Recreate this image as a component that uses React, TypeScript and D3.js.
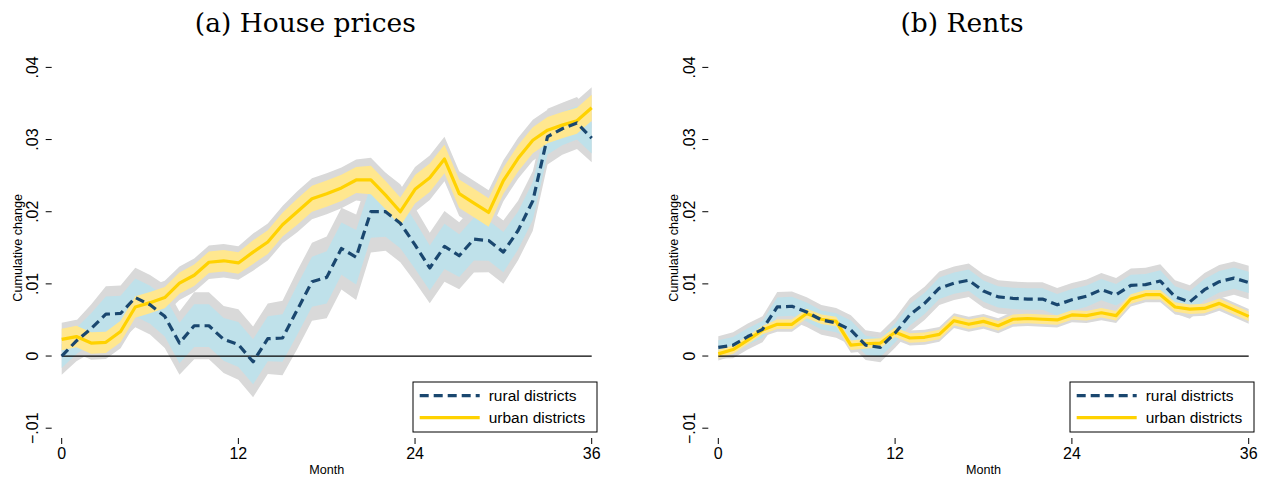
import React from 'react';
import * as d3 from 'd3';

// ---- data ----
const months = [0,1,2,3,4,5,6,7,8,9,10,11,12,13,14,15,16,17,18,19,20,21,22,23,24,25,26,27,28,29,30,31,32,33,34,35,36];
const monthTicks = [0, 12, 24, 36];
const valueTicks = [-0.01, 0, 0.01, 0.02, 0.03, 0.04];
const valueTickLabels = ['\u2212.01', '0', '.01', '.02', '.03', '.04'];
const seriesNames = ['rural districts', 'urban districts'];
const panelTitles = ['(a) House prices', '(b) Rents'];

const houseRural = [0.0000, 0.0021, 0.0038, 0.0058, 0.0059, 0.0081, 0.0071, 0.0055, 0.0018, 0.0042, 0.0042, 0.0023, 0.0016, -0.0008, 0.0024, 0.0025, 0.0064, 0.0103, 0.0109, 0.0149, 0.0137, 0.0200, 0.0200, 0.0184, 0.0154, 0.0122, 0.0152, 0.0139, 0.0162, 0.0160, 0.0144, 0.0174, 0.0215, 0.0304, 0.0315, 0.0323, 0.0302];
const houseRuralSE = [0.0010, 0.0011, 0.0013, 0.0015, 0.0015, 0.0016, 0.0016, 0.0017, 0.0017, 0.0018, 0.0018, 0.0018, 0.0019, 0.0019, 0.0019, 0.0020, 0.0021, 0.0021, 0.0022, 0.0022, 0.0023, 0.0022, 0.0021, 0.0021, 0.0020, 0.0019, 0.0019, 0.0018, 0.0018, 0.0017, 0.0017, 0.0016, 0.0016, 0.0015, 0.0014, 0.0014, 0.0013];
const houseUrban = [0.0023, 0.0027, 0.0018, 0.0019, 0.0034, 0.0068, 0.0074, 0.0081, 0.0101, 0.0112, 0.0130, 0.0132, 0.0129, 0.0144, 0.0158, 0.0182, 0.0200, 0.0218, 0.0225, 0.0233, 0.0244, 0.0244, 0.0223, 0.0200, 0.0231, 0.0247, 0.0273, 0.0225, 0.0212, 0.0199, 0.0243, 0.0274, 0.0299, 0.0313, 0.0320, 0.0326, 0.0344];
const houseUrbanSE = [0.0009, 0.0009, 0.0009, 0.0009, 0.0009, 0.0009, 0.0009, 0.0009, 0.0009, 0.0009, 0.0009, 0.0009, 0.0009, 0.0010, 0.0010, 0.0010, 0.0011, 0.0011, 0.0011, 0.0011, 0.0011, 0.0012, 0.0012, 0.0012, 0.0012, 0.0012, 0.0012, 0.0012, 0.0012, 0.0012, 0.0011, 0.0011, 0.0011, 0.0011, 0.0011, 0.0011, 0.0011];

const rentRural = [0.0012, 0.0015, 0.0027, 0.0037, 0.0068, 0.0069, 0.0061, 0.0050, 0.0046, 0.0036, 0.0015, 0.0012, 0.0032, 0.0057, 0.0073, 0.0094, 0.0101, 0.0105, 0.0090, 0.0082, 0.0080, 0.0079, 0.0079, 0.0071, 0.0078, 0.0083, 0.0092, 0.0085, 0.0098, 0.0099, 0.0104, 0.0082, 0.0075, 0.0092, 0.0103, 0.0108, 0.0102];
const rentRuralSE = [0.0006, 0.0007, 0.0007, 0.0007, 0.0008, 0.0008, 0.0008, 0.0008, 0.0008, 0.0008, 0.0008, 0.0008, 0.0008, 0.0009, 0.0009, 0.0009, 0.0009, 0.0009, 0.0009, 0.0009, 0.0009, 0.0009, 0.0009, 0.0009, 0.0009, 0.0009, 0.0009, 0.0009, 0.0009, 0.0009, 0.0009, 0.0009, 0.0009, 0.0009, 0.0009, 0.0009, 0.0009];
const rentUrban = [0.0003, 0.0009, 0.0022, 0.0036, 0.0044, 0.0044, 0.0059, 0.0051, 0.0048, 0.0015, 0.0017, 0.0018, 0.0033, 0.0025, 0.0026, 0.0030, 0.0049, 0.0044, 0.0048, 0.0042, 0.0051, 0.0052, 0.0051, 0.0050, 0.0057, 0.0056, 0.0060, 0.0056, 0.0079, 0.0085, 0.0085, 0.0068, 0.0065, 0.0066, 0.0073, 0.0064, 0.0055];
const rentUrbanSE = [0.00035, 0.00035, 0.00035, 0.00035, 0.0004, 0.0004, 0.0004, 0.0004, 0.0004, 0.0004, 0.0004, 0.0004, 0.0004, 0.0004, 0.0004, 0.0004, 0.0004, 0.0004, 0.0004, 0.0004, 0.0004, 0.0004, 0.0004, 0.0004, 0.0004, 0.0004, 0.0004, 0.0004, 0.0004, 0.0004, 0.0004, 0.0004, 0.0004, 0.0004, 0.0004, 0.0004, 0.0004];

const zInner = 1.645;
const zOuter = 2.576;

const C = {
  grey: '#d9d9d9',
  blueBand: '#bfe1ea',
  yellowBand: '#ffe78f',
  yellow: '#ffd200',
  navy: '#1a476f',
};
const SANS = '"Liberation Sans", Arial, Helvetica, sans-serif';

type PanelProps = {
  title: string;
  titleX: number;
  x0: number;
  x1: number;
  rural: number[];
  ruralSE: number[];
  urban: number[];
  urbanSE: number[];
};

const Y_TOP = 67.4;
const Y_BOT = 428.2;

function Panel({ title, titleX, x0, x1, rural, ruralSE, urban, urbanSE }: PanelProps) {
  const x = d3.scaleLinear().domain([0, 36]).range([x0, x1]);
  const y = d3.scaleLinear().domain([-0.01, 0.04]).range([Y_BOT, Y_TOP]);

  const band = (vals: number[], se: number[], z: number) =>
    d3.area<number>()
      .x((_, i) => x(months[i]))
      .y0((v, i) => y(v - z * se[i]))
      .y1((v, i) => y(v + z * se[i]))(vals) || '';
  const line = (vals: number[]) =>
    d3.line<number>().x((_, i) => x(months[i])).y((v) => y(v))(vals) || '';

  const legLeft = x1 + 5.3 - 184;
  const rowY = [395.7, 417.7];

  return (
    <g>
      <text x={titleX} y={32} textAnchor="middle" fontFamily='"DejaVu Serif", serif' fontSize={26.5} fill="#000">{title}</text>

      {/* bands */}
      <path d={band(rural, ruralSE, zOuter)} fill={C.grey} />
      <path d={band(urban, urbanSE, zOuter)} fill={C.grey} />
      <path d={band(rural, ruralSE, zInner)} fill={C.blueBand} />
      <path d={band(urban, urbanSE, zInner)} fill={C.yellowBand} />

      {/* zero line */}
      <line x1={x(0)} x2={x(36)} y1={y(0)} y2={y(0)} stroke="#000" strokeWidth={1.3} />

      {/* lines */}
      <path d={line(urban)} fill="none" stroke={C.yellow} strokeWidth={3.2} strokeLinejoin="round" />
      <path d={line(rural)} fill="none" stroke={C.navy} strokeWidth={3.2} strokeDasharray="9,5" strokeLinejoin="round" />

      {/* y axis */}
      {valueTicks.map((t, i) => (
        <g key={'yt' + i}>
          <line x1={x0 - 16} x2={x0 - 10} y1={y(t)} y2={y(t)} stroke="#000" strokeWidth={1} />
          <text transform={`translate(${x0 - 23.5},${y(t)}) rotate(-90)`} textAnchor="middle" fontFamily={SANS} fontSize={16} fill="#000">{valueTickLabels[i]}</text>
        </g>
      ))}
      <text transform={`translate(${x0 - 40},${(Y_TOP + Y_BOT) / 2}) rotate(-90)`} textAnchor="middle" fontFamily={SANS} fontSize={12.6} fill="#000">Cumulative change</text>

      {/* x axis */}
      {monthTicks.map((t) => (
        <g key={'xt' + t}>
          <line x1={x(t)} x2={x(t)} y1={438} y2={444} stroke="#000" strokeWidth={1} />
          <text x={x(t)} y={459} textAnchor="middle" fontFamily={SANS} fontSize={16} fill="#000">{t}</text>
        </g>
      ))}
      <text x={(x0 + x1) / 2} y={473.5} textAnchor="middle" fontFamily={SANS} fontSize={12.6} fill="#000">Month</text>

      {/* legend */}
      <rect x={legLeft} y={382} width={184} height={50} fill="#fff" stroke="#000" strokeWidth={1} />
      <line x1={legLeft + 6.7} x2={legLeft + 66.7} y1={rowY[0]} y2={rowY[0]} stroke={C.navy} strokeWidth={3.2} strokeDasharray="9,5" />
      <line x1={legLeft + 6.7} x2={legLeft + 66.7} y1={rowY[1]} y2={rowY[1]} stroke={C.yellow} strokeWidth={3.2} />
      {seriesNames.map((n, i) => (
        <text key={n} x={legLeft + 75.7} y={rowY[i] + 5.5} fontFamily={SANS} fontSize={15.5} fill="#000">{n}</text>
      ))}
    </g>
  );
}

export default function App() {
  return (
    <svg width={1268} height={478} style={{ position: 'absolute', left: 0, top: 0, background: '#fff' }}>
      <rect x={0} y={0} width={1268} height={478} fill="#fff" />
      <Panel title={panelTitles[0]} titleX={305.3} x0={61.7} x1={591.7}
        rural={houseRural} ruralSE={houseRuralSE} urban={houseUrban} urbanSE={houseUrbanSE} />
      <Panel title={panelTitles[1]} titleX={962} x0={718.3} x1={1248.7}
        rural={rentRural} ruralSE={rentRuralSE} urban={rentUrban} urbanSE={rentUrbanSE} />
    </svg>
  );
}
